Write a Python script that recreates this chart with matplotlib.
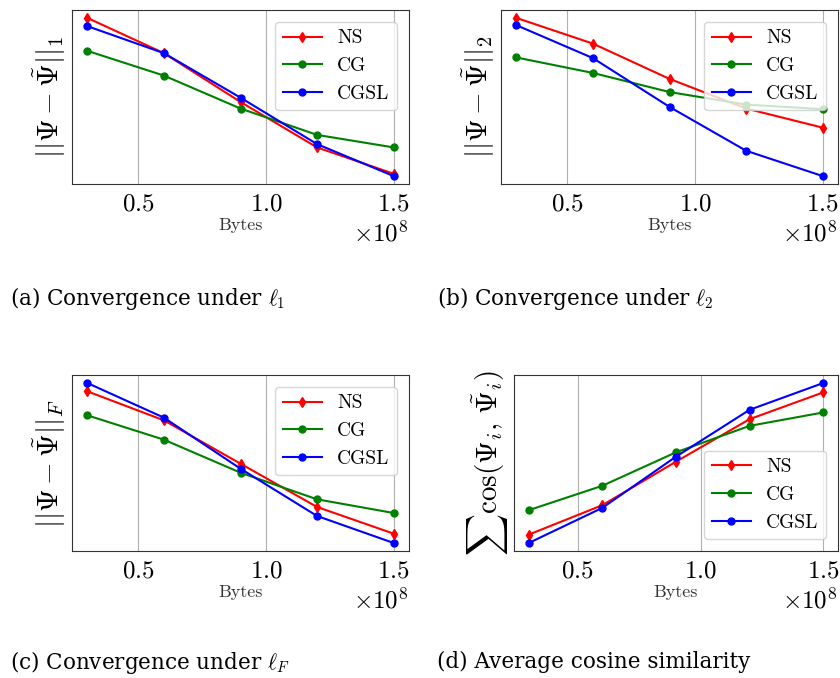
import numpy as np
import matplotlib
matplotlib.use("Agg")
import matplotlib.pyplot as plt

plt.rcParams['font.family'] = 'serif'
plt.rcParams['font.serif'] = ['cmr10']
plt.rcParams['mathtext.fontset'] = 'cm'
plt.rcParams['axes.formatter.use_mathtext'] = True

# x values: data volume in bytes
x_bytes = [0.3e8, 0.6e8, 0.9e8, 1.2e8, 1.5e8]

# relative values (no y scale shown)
l1_ns = [5.03, 3.96, 2.48, 1.10, 0.30]
l1_cg = [4.03, 3.28, 2.28, 1.48, 1.10]
l1_cgsl = [4.78, 3.96, 2.61, 1.20, 0.23]

l2_ns = [5.03, 4.25, 3.18, 2.28, 1.70]
l2_cg = [3.83, 3.36, 2.78, 2.40, 2.26]
l2_cgsl = [4.81, 3.81, 2.33, 1.00, 0.23]

lf_ns = [4.80, 3.93, 2.63, 1.33, 0.53]
lf_cg = [4.08, 3.35, 2.36, 1.56, 1.15]
lf_cgsl = [5.05, 4.01, 2.48, 1.06, 0.25]

cos_ns = [0.50, 1.38, 2.68, 3.95, 4.75]
cos_cg = [1.23, 1.96, 2.96, 3.75, 4.15]
cos_cgsl = [0.25, 1.30, 2.83, 4.23, 5.03]

series_names = ['NS', 'CG', 'CGSL']
ylabels = [r'$||\mathbf{\Psi} - \tilde{\mathbf{\Psi}}||_1$',
           r'$||\mathbf{\Psi} - \tilde{\mathbf{\Psi}}||_2$',
           r'$||\mathbf{\Psi} - \tilde{\mathbf{\Psi}}||_F$',
           r'$\sum\cos(\mathbf{\Psi}_i,\, \tilde{\mathbf{\Psi}}_i)$']
captions = [r'(a) Convergence under $\ell_1$',
            r'(b) Convergence under $\ell_2$',
            r'(c) Convergence under $\ell_F$',
            '(d) Average cosine similarity']

panels = [(l1_ns, l1_cg, l1_cgsl), (l2_ns, l2_cg, l2_cgsl),
          (lf_ns, lf_cg, lf_cgsl), (cos_ns, cos_cg, cos_cgsl)]

W, H = 840, 678
# axes boxes in pixels: left, top, right, bottom
boxes = [(72, 10, 409, 184), (501, 10, 838, 184),
         (72, 375, 409, 551), (514, 375, 838, 551)]
cap_pos = [(10, 298), (437, 298), (10, 662), (437, 662)]
legend_loc = ['upper right', 'upper right', 'upper right', 'lower right']

fig = plt.figure(figsize=(W / 100, H / 100), dpi=100)

for i, (ns, cg, cgsl) in enumerate(panels):
    l, t, r, b = boxes[i]
    ax = fig.add_axes([l / W, 1 - b / H, (r - l) / W, (b - t) / H])
    ax.plot(x_bytes, ns, color='red', marker='d', markersize=5, lw=1.5, label=series_names[0])
    ax.plot(x_bytes, cg, color='green', marker='o', markersize=5, lw=1.5, label=series_names[1])
    ax.plot(x_bytes, cgsl, color='blue', marker='o', markersize=5, lw=1.5, label=series_names[2])
    ax.set_yticks([])
    ax.grid(axis='x', color='#b0b0b0', lw=0.8)
    ax.tick_params(axis='x', length=0, pad=7, labelsize=18)
    ax.xaxis.get_offset_text().set_fontsize(18)
    ax.set_xlabel('Bytes', fontsize=13, color='#333333', labelpad=1)
    ax.set_ylabel(ylabels[i], fontsize=21, labelpad=3)
    for s in ax.spines.values():
        s.set_color('#333333')
    ax.legend(loc=legend_loc[i], fontsize=14, handlelength=2.0, borderaxespad=0.6)
    cx, cy = cap_pos[i]
    fig.text(cx / W, 1 - cy / H, captions[i], fontsize=15.5, family='DejaVu Serif',
             ha='left', va='center')

fig.savefig('out.png', dpi=100)
